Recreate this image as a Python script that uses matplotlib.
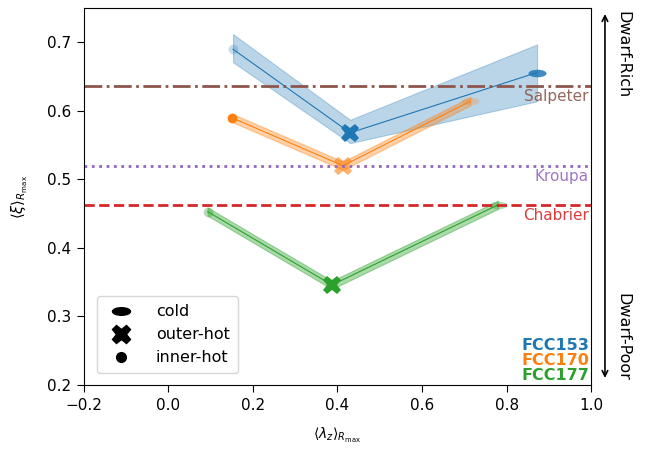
import numpy as np
import matplotlib
matplotlib.use("Agg")
import matplotlib.pyplot as plt
from matplotlib.path import Path
from matplotlib.transforms import Affine2D
from matplotlib.lines import Line2D

# ---- data ----
galaxies = ["FCC153", "FCC170", "FCC177"]
colors = ["#1f77b4", "#ff7f0e", "#2ca02c"]
# order: inner-hot, outer-hot, cold
lam_153 = [0.153, 0.430, 0.872]
xi_153 = [0.690, 0.568, 0.656]
err_lo_153 = [0.019, 0.015, 0.042]
err_hi_153 = [0.022, 0.019, 0.041]

lam_170 = [0.150, 0.413, 0.714]
xi_170 = [0.590, 0.520, 0.614]
err_170 = [0.006, 0.006, 0.006]

lam_177 = [0.093, 0.387, 0.780]
xi_177 = [0.453, 0.346, 0.463]
err_177 = [0.006, 0.006, 0.006]

# marker alphas [inner-hot, outer-hot, cold]
alpha_153 = [0.25, 1.0, 0.85]
alpha_170 = [1.0, 0.6, 0.25]
alpha_177 = [0.35, 1.0, 0.35]

imf_names = ["Salpeter", "Kroupa", "Chabrier"]
imf_values = [0.636, 0.519, 0.462]
imf_colors = ["tab:brown", "tab:purple", "tab:red"]
imf_styles = ["-.", ":", "--"]

xlim = (-0.2, 1.0)
ylim = (0.2, 0.75)

# ---- figure ----
fig = plt.figure(figsize=(6.54, 4.49), dpi=100)
ax = fig.add_axes([0.128, 0.1425, 0.776, 0.8395])

ellipse = Path.unit_circle().transformed(Affine2D().scale(1.0, 0.42))
markers = ["o", "X", ellipse]
msizes = [7, 13, 13]

series = [
    (lam_153, xi_153, err_lo_153, err_hi_153, alpha_153, 0.3, 0.8),
    (lam_170, xi_170, err_170, err_170, alpha_170, 0.35, 1.0),
    (lam_177, xi_177, err_177, err_177, alpha_177, 0.4, 0.8),
]
for (lam, xi, elo, ehi, alphas, falpha, elw), c in zip(series, colors):
    lam = np.array(lam); xi = np.array(xi)
    ax.fill_between(lam, xi - np.array(elo), xi + np.array(ehi), color=c,
                    alpha=falpha, lw=elw, edgecolor=c)
    ax.plot(lam, xi, color=c, lw=0.8)
    for i in range(3):
        ax.plot(lam[i], xi[i], marker=markers[i], ms=msizes[i], color=c,
                alpha=alphas[i], ls="none", mew=0)

for name, v, c, s in zip(imf_names, imf_values, imf_colors, imf_styles):
    ax.axhline(v, color=c, ls=s, lw=2)
    ax.text(0.995, v - 0.004, name, color=c, ha="right", va="top",
            fontsize=11, alpha=0.9, transform=ax.get_yaxis_transform())

for k, (g, c) in enumerate(zip(galaxies, colors)):
    ax.text(0.997, 0.0 + 0.04 * (2 - k) + 0.005, g, color=c, fontweight="bold",
            fontsize=11.5, ha="right", va="bottom", transform=ax.transAxes)

ax.set_xlim(*xlim)
ax.set_ylim(*ylim)
ax.set_xticks([-0.2, 0.0, 0.2, 0.4, 0.6, 0.8, 1.0])
ax.set_yticks([0.2, 0.3, 0.4, 0.5, 0.6, 0.7])
ax.tick_params(labelsize=11, length=5, pad=4)
ax.set_xlabel(r"$\langle\lambda_z\rangle_{R_{\max}}$", fontsize=10, labelpad=10)
ax.set_ylabel(r"$\langle\xi\rangle_{R_{\max}}$", fontsize=10.5, labelpad=12)

handles = [
    Line2D([], [], marker=ellipse, ms=13, color="k", ls="none", label="cold"),
    Line2D([], [], marker="X", ms=13, color="k", ls="none", label="outer-hot"),
    Line2D([], [], marker="o", ms=7, color="k", ls="none", label="inner-hot"),
]
ax.legend(handles=handles, loc="lower left", fontsize=11.5,
          bbox_to_anchor=(0.01, 0.01), borderpad=0.5, handletextpad=1.2)

# Dwarf-Rich / Dwarf-Poor arrow
ax.annotate("", xy=(0.925, 0.975), xytext=(0.925, 0.152),
            xycoords="figure fraction",
            arrowprops=dict(arrowstyle="<->", color="k", lw=1.2))
fig.text(0.952, 0.975, "Dwarf-Rich", rotation=270, ha="center", va="top",
         fontsize=11.5)
fig.text(0.952, 0.152, "Dwarf-Poor", rotation=270, ha="center", va="bottom",
         fontsize=11.5)

fig.savefig("out.png", dpi=100)
